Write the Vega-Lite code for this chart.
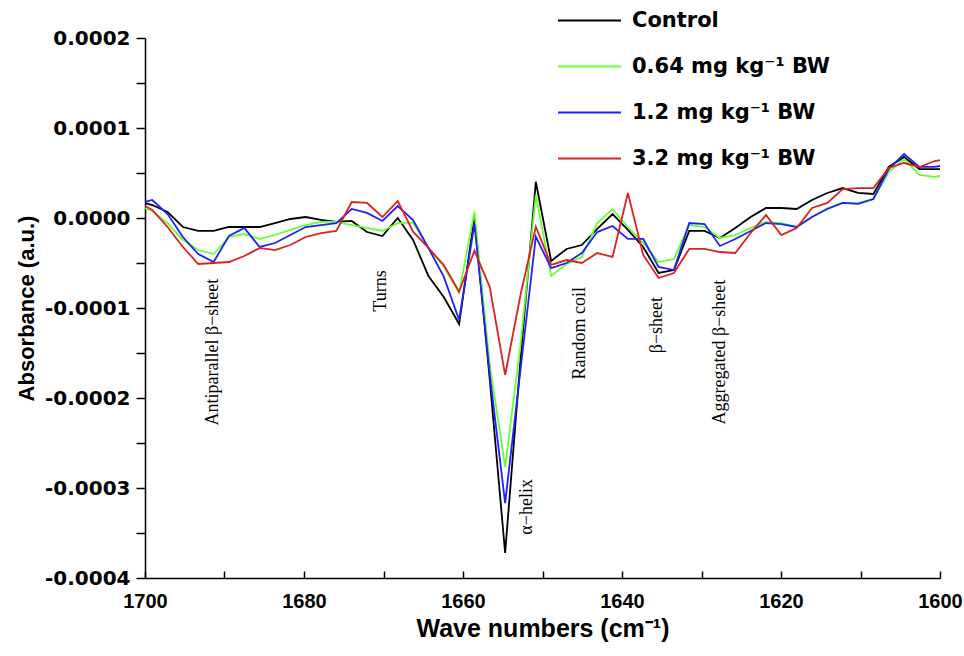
{
  "$schema": "https://vega.github.io/schema/vega-lite/v6.json",
  "autosize": {"type": "none"},
  "padding": {"left": 145, "top": 38, "right": 24, "bottom": 78},
  "width": 795,
  "height": 540,
  "background": "white",
  "config": {"view": {"stroke": null}},
  "layer": [
    {
      "data": {"values": [
        {"w":1700,"c":0.0000167,"g":0.0000111,"b":0.0000178,"r":0.0000133},
        {"w":1699.09,"c":0.0000144,"g":0.0000078,"b":0.0000200,"r":0.0000089},
        {"w":1697.16,"c":0.0000067,"g":-0.0000056,"b":0.0000044,"r":-0.0000100},
        {"w":1695.23,"c":-0.0000100,"g":-0.0000244,"b":-0.0000211,"r":-0.0000322},
        {"w":1693.30,"c":-0.0000144,"g":-0.0000356,"b":-0.0000400,"r":-0.0000511},
        {"w":1691.37,"c":-0.0000144,"g":-0.0000400,"b":-0.0000489,"r":-0.0000500},
        {"w":1689.44,"c":-0.0000100,"g":-0.0000211,"b":-0.0000200,"r":-0.0000489},
        {"w":1687.51,"c":-0.0000100,"g":-0.0000178,"b":-0.0000111,"r":-0.0000422},
        {"w":1685.58,"c":-0.0000100,"g":-0.0000233,"b":-0.0000322,"r":-0.0000333},
        {"w":1683.65,"c":-0.0000056,"g":-0.0000189,"b":-0.0000278,"r":-0.0000356},
        {"w":1681.72,"c":-0.0000011,"g":-0.0000133,"b":-0.0000189,"r":-0.0000300},
        {"w":1679.79,"c":0.0000011,"g":-0.0000078,"b":-0.0000100,"r":-0.0000211},
        {"w":1677.86,"c":-0.0000022,"g":-0.0000044,"b":-0.0000078,"r":-0.0000167},
        {"w":1675.93,"c":-0.0000044,"g":-0.0000044,"b":-0.0000056,"r":-0.0000144},
        {"w":1674.00,"c":-0.0000033,"g":-0.0000078,"b":0.0000100,"r":0.0000178},
        {"w":1672.07,"c":-0.0000156,"g":-0.0000111,"b":0.0000056,"r":0.0000167},
        {"w":1670.14,"c":-0.0000200,"g":-0.0000144,"b":-0.0000033,"r":0.0000011},
        {"w":1668.21,"c":0.0000000,"g":-0.0000056,"b":0.0000133,"r":0.0000189},
        {"w":1666.28,"c":-0.0000244,"g":-0.0000052,"b":-0.0000022,"r":-0.0000152},
        {"w":1664.35,"c":-0.0000644,"g":-0.0000333,"b":-0.0000333,"r":-0.0000333},
        {"w":1662.42,"c":-0.0000878,"g":-0.0000541,"b":-0.0000652,"r":-0.0000522},
        {"w":1660.49,"c":-0.0001178,"g":-0.0000830,"b":-0.0001133,"r":-0.0000819},
        {"w":1658.56,"c":0.0000011,"g":0.0000070,"b":-0.0000067,"r":-0.0000363},
        {"w":1656.63,"c":-0.0001800,"g":-0.0001633,"b":-0.0001744,"r":-0.0000767},
        {"w":1654.70,"c":-0.0003722,"g":-0.0002767,"b":-0.0003167,"r":-0.0001744},
        {"w":1652.77,"c":-0.0001578,"g":-0.0001411,"b":-0.0001689,"r":-0.0000856},
        {"w":1650.84,"c":0.0000403,"g":0.0000256,"b":-0.0000208,"r":-0.0000097},
        {"w":1648.91,"c":-0.0000478,"g":-0.0000644,"b":-0.0000556,"r":-0.0000522},
        {"w":1646.98,"c":-0.0000344,"g":-0.0000511,"b":-0.0000500,"r":-0.0000467},
        {"w":1645.05,"c":-0.0000300,"g":-0.0000433,"b":-0.0000389,"r":-0.0000500},
        {"w":1643.12,"c":-0.0000122,"g":-0.0000056,"b":-0.0000156,"r":-0.0000389},
        {"w":1641.19,"c":0.0000044,"g":0.0000097,"b":-0.0000089,"r":-0.0000433},
        {"w":1639.26,"c":-0.0000133,"g":-0.0000100,"b":-0.0000233,"r":0.0000278},
        {"w":1637.33,"c":-0.0000322,"g":-0.0000278,"b":-0.0000233,"r":-0.0000411},
        {"w":1635.40,"c":-0.0000611,"g":-0.0000489,"b":-0.0000544,"r":-0.0000667},
        {"w":1633.47,"c":-0.0000578,"g":-0.0000456,"b":-0.0000578,"r":-0.0000611},
        {"w":1631.54,"c":-0.0000144,"g":-0.0000078,"b":-0.0000056,"r":-0.0000344},
        {"w":1629.61,"c":-0.0000144,"g":-0.0000100,"b":-0.0000067,"r":-0.0000344},
        {"w":1627.68,"c":-0.0000222,"g":-0.0000222,"b":-0.0000311,"r":-0.0000378},
        {"w":1625.75,"c":-0.0000111,"g":-0.0000189,"b":-0.0000233,"r":-0.0000389},
        {"w":1623.82,"c":0.0000011,"g":-0.0000111,"b":-0.0000144,"r":-0.0000167},
        {"w":1621.89,"c":0.0000111,"g":-0.0000044,"b":-0.0000056,"r":0.0000033},
        {"w":1619.96,"c":0.0000111,"g":-0.0000056,"b":-0.0000067,"r":-0.0000189},
        {"w":1618.03,"c":0.0000100,"g":-0.0000100,"b":-0.0000100,"r":-0.0000111},
        {"w":1616.10,"c":0.0000200,"g":0.0000011,"b":0.0000011,"r":0.0000111},
        {"w":1614.17,"c":0.0000278,"g":0.0000111,"b":0.0000100,"r":0.0000167},
        {"w":1612.24,"c":0.0000333,"g":0.0000167,"b":0.0000167,"r":0.0000322},
        {"w":1610.31,"c":0.0000278,"g":0.0000167,"b":0.0000156,"r":0.0000333},
        {"w":1608.38,"c":0.0000267,"g":0.0000211,"b":0.0000211,"r":0.0000333},
        {"w":1606.45,"c":0.0000567,"g":0.0000511,"b":0.0000544,"r":0.0000556},
        {"w":1604.52,"c":0.0000678,"g":0.0000656,"b":0.0000711,"r":0.0000611},
        {"w":1602.59,"c":0.0000544,"g":0.0000478,"b":0.0000567,"r":0.0000567},
        {"w":1600.66,"c":0.0000544,"g":0.0000456,"b":0.0000567,"r":0.0000633},
        {"w":1600,"c":0.0000544,"g":0.0000467,"b":0.0000578,"r":0.0000644}
      ]},
      "transform": [{"fold": ["c", "g", "b", "r"], "as": ["s", "v"]}],
      "mark": {"type": "line", "strokeWidth": 1.8, "clip": true},
      "encoding": {
        "x": {
          "field": "w", "type": "quantitative",
          "scale": {"domain": [1600, 1700], "reverse": true, "nice": false, "zero": false},
          "axis": {
            "title": "Wave numbers (cm⁻¹)",
            "values": [1700, 1690, 1680, 1670, 1660, 1650, 1640, 1630, 1620, 1610, 1600],
            "labelExpr": "datum.value % 20 == 0 ? format(datum.value, 'd') : ''",
            "grid": false,
            "domainColor": "black", "domainWidth": 1.5,
            "tickColor": "black", "tickWidth": 1.5, "tickSize": -7,
            "labelFont": "Liberation Sans", "labelFontWeight": "bold", "labelFontSize": 20, "labelColor": "black",
            "labelPadding": 20, "labelFlush": false, "labelOverlap": false,
            "titleFont": "Liberation Sans", "titleFontWeight": "bold", "titleFontSize": 25, "titleColor": "black",
            "titlePadding": 5
          }
        },
        "y": {
          "field": "v", "type": "quantitative",
          "scale": {"domain": [-0.0004, 0.0002], "nice": false, "zero": false},
          "axis": {
            "title": "Absorbance (a.u.)",
            "values": [-0.0004, -0.00035, -0.0003, -0.00025, -0.0002, -0.00015, -0.0001, -0.00005, 0, 0.00005, 0.0001, 0.00015, 0.0002],
            "labelExpr": "abs(round(datum.value * 100000)) % 10 == 0 ? replace(format(datum.value, '.4f'), '−', '-') : ''",
            "grid": false,
            "domainColor": "black", "domainWidth": 1.5,
            "tickColor": "black", "tickWidth": 1.5, "tickSize": 9,
            "labelFont": "DejaVu Sans", "labelFontWeight": "bold", "labelFontSize": 20, "labelColor": "black",
            "labelPadding": 6, "labelOverlap": false,
            "titleFont": "Liberation Sans", "titleFontWeight": "bold", "titleFontSize": 22, "titleColor": "black",
            "titlePadding": 6
          }
        },
        "color": {
          "field": "s", "type": "nominal",
          "scale": {"domain": ["c", "g", "b", "r"], "range": ["#000000", "#66ff33", "#1f1fff", "#dd2020"]},
          "legend": {
            "orient": "none", "legendX": 412, "legendY": -50,
            "title": null, "padding": 0,
            "symbolType": "stroke", "symbolSize": 3969, "symbolStrokeWidth": 2,
            "labelFont": "DejaVu Sans", "labelFontWeight": "bold", "labelFontSize": 21, "labelColor": "black",
            "labelOffset": 10, "rowPadding": 3, "labelLimit": 0,
            "labelExpr": "datum.label == 'c' ? 'Control' : datum.label == 'g' ? '0.64 mg kg⁻¹ BW' : datum.label == 'b' ? '1.2 mg kg⁻¹ BW' : '3.2 mg kg⁻¹ BW'"
          }
        },
        "order": {"field": "w", "type": "quantitative"}
      }
    },
    {
      "data": {"values": [
        {"w": 1691.4, "v": -0.000149, "t": "Antiparallel β−sheet"},
        {"w": 1670.3, "v": -0.0000811, "t": "Turns"},
        {"w": 1652.0, "v": -0.000321, "t": "α−helix"},
        {"w": 1645.3, "v": -0.000128, "t": "Random coil"},
        {"w": 1635.6, "v": -0.000119, "t": "β−sheet"},
        {"w": 1627.7, "v": -0.000149, "t": "Aggregated β−sheet"}
      ]},
      "mark": {"type": "text", "angle": 270, "font": "Liberation Serif", "fontSize": 18, "align": "center", "baseline": "middle", "color": "black"},
      "encoding": {
        "x": {"field": "w", "type": "quantitative"},
        "y": {"field": "v", "type": "quantitative"},
        "text": {"field": "t"}
      }
    }
  ]
}
